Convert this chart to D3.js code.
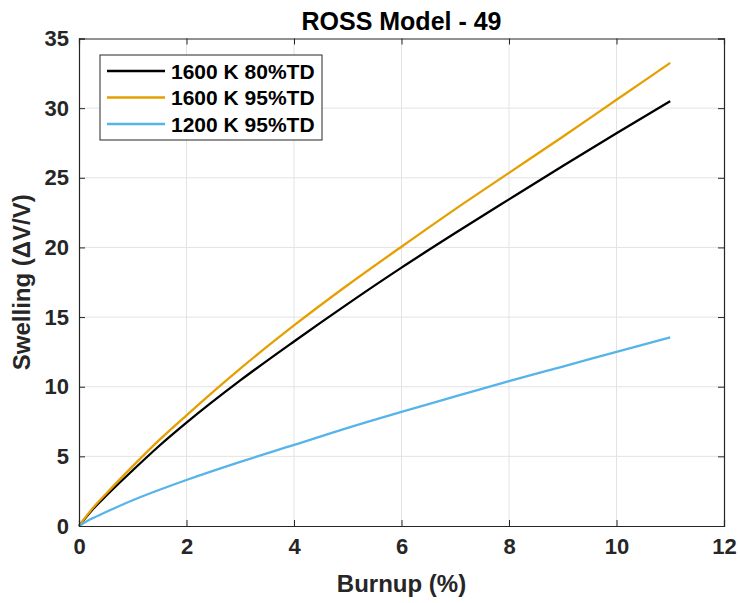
<!DOCTYPE html>
<html>
<head>
<meta charset="utf-8">
<script src="https://cdn.jsdelivr.net/npm/d3@7"></script>
<style>
  body { margin: 0; background: #fff; }
  svg { font-family: "Liberation Sans", Arial, sans-serif; font-weight: bold; }
</style>
</head>
<body>
<div id="chart"></div>
<script>
// Burnup (%) sample points
const burnup = [0, 0.25, 0.5, 1, 1.5, 2, 3, 4, 5, 6, 7, 8, 9, 10, 11];

// Swelling values
const swell1600_80 = [0, 1.17, 2.15, 4.0, 5.78, 7.42, 10.45, 13.25, 15.95, 18.55, 21.03, 23.45, 25.85, 28.2, 30.5];
const swell1600_95 = [0, 1.25, 2.3, 4.3, 6.2, 7.95, 11.3, 14.4, 17.3, 20.05, 22.75, 25.35, 27.95, 30.6, 33.25];
const swell1200_95 = [0, 0.55, 1.0, 1.85, 2.6, 3.3, 4.6, 5.82, 7.05, 8.2, 9.3, 10.4, 11.45, 12.5, 13.55];

const seriesNames = ["1600 K 80%TD", "1600 K 95%TD", "1200 K 95%TD"];
const seriesColors = ["#000000", "#E69F00", "#56B4E9"];

const xTicks = [0, 2, 4, 6, 8, 10, 12];
const yTicks = [0, 5, 10, 15, 20, 25, 30, 35];

function renderChart(selector) {
  const width = 740;
  const height = 603;
  const margin = { top: 38.5, right: 16, bottom: 77, left: 79 };
  const innerW = width - margin.left - margin.right;
  const innerH = height - margin.top - margin.bottom;
  const axisColor = "#262626";

  const svg = d3.select(selector)
    .append("svg")
    .attr("width", width)
    .attr("height", height);

  const x = d3.scaleLinear().domain([0, 12]).range([margin.left, margin.left + innerW]);
  const y = d3.scaleLinear().domain([0, 35]).range([margin.top + innerH, margin.top]);

  // grid lines
  svg.append("g")
    .selectAll("line.vx")
    .data(xTicks.slice(1, -1))
    .join("line")
    .attr("x1", d => x(d)).attr("x2", d => x(d))
    .attr("y1", y(0)).attr("y2", y(35))
    .attr("stroke", "#e3e3e3").attr("stroke-width", 1);
  svg.append("g")
    .selectAll("line.hy")
    .data(yTicks.slice(1, -1))
    .join("line")
    .attr("x1", x(0)).attr("x2", x(12))
    .attr("y1", d => y(d)).attr("y2", d => y(d))
    .attr("stroke", "#e3e3e3").attr("stroke-width", 1);

  // series lines
  const allSeries = [swell1600_80, swell1600_95, swell1200_95];
  const line = d3.line()
    .x(d => x(d[0]))
    .y(d => y(d[1]))
    .curve(d3.curveMonotoneX);

  allSeries.forEach((vals, i) => {
    svg.append("path")
      .datum(burnup.map((b, j) => [b, vals[j]]))
      .attr("fill", "none")
      .attr("stroke", seriesColors[i])
      .attr("stroke-width", 2.3)
      .attr("d", line);
  });

  // axes (ticks pointing inward)
  const tickLen = 6;
  const xAxis = d3.axisBottom(x).tickValues(xTicks).tickSize(-tickLen).tickPadding(12);
  const yAxis = d3.axisLeft(y).tickValues(yTicks).tickSize(-tickLen).tickPadding(10);

  const gx = svg.append("g").attr("transform", `translate(0,${y(0)})`).call(xAxis);
  const gy = svg.append("g").attr("transform", `translate(${x(0)},0)`).call(yAxis);
  const gxTop = svg.append("g").attr("transform", `translate(0,${y(35)})`)
    .call(d3.axisTop(x).tickValues(xTicks).tickSize(-tickLen).tickFormat(""));
  const gyRight = svg.append("g").attr("transform", `translate(${x(12)},0)`)
    .call(d3.axisRight(y).tickValues(yTicks).tickSize(-tickLen).tickFormat(""));

  [gx, gy, gxTop, gyRight].forEach(g => {
    g.select(".domain").attr("stroke", axisColor).attr("stroke-width", 1.2);
    g.selectAll(".tick line").attr("stroke", axisColor).attr("stroke-width", 1);
    g.selectAll(".tick text")
      .attr("fill", axisColor)
      .attr("font-size", 22)
      .attr("font-weight", "bold")
      .attr("font-family", "'Liberation Sans', Arial, sans-serif");
  });

  // title and axis labels
  svg.append("text")
    .attr("x", x(6)).attr("y", 30)
    .attr("text-anchor", "middle")
    .attr("font-size", 25)
    .attr("fill", "#000")
    .text("ROSS Model - 49");

  svg.append("text")
    .attr("x", x(6)).attr("y", 592)
    .attr("text-anchor", "middle")
    .attr("font-size", 24)
    .attr("fill", axisColor)
    .text("Burnup (%)");

  svg.append("text")
    .attr("transform", `translate(30,${y(17.5)}) rotate(-90)`)
    .attr("text-anchor", "middle")
    .attr("font-size", 24)
    .attr("fill", axisColor)
    .text("Swelling (ΔV/V)");

  // legend
  const legend = svg.append("g").attr("transform", "translate(100,55)");
  legend.append("rect")
    .attr("width", 222).attr("height", 85)
    .attr("fill", "#fff")
    .attr("stroke", axisColor).attr("stroke-width", 1);

  const rowY = [16, 42.5, 69];
  seriesNames.forEach((name, i) => {
    legend.append("line")
      .attr("x1", 7).attr("x2", 65)
      .attr("y1", rowY[i]).attr("y2", rowY[i])
      .attr("stroke", seriesColors[i]).attr("stroke-width", 2.3);
    legend.append("text")
      .attr("x", 71).attr("y", rowY[i])
      .attr("dy", "0.36em")
      .attr("font-size", 21)
      .attr("fill", "#000")
      .text(name);
  });
}

renderChart("#chart");
</script>
</body>
</html>
